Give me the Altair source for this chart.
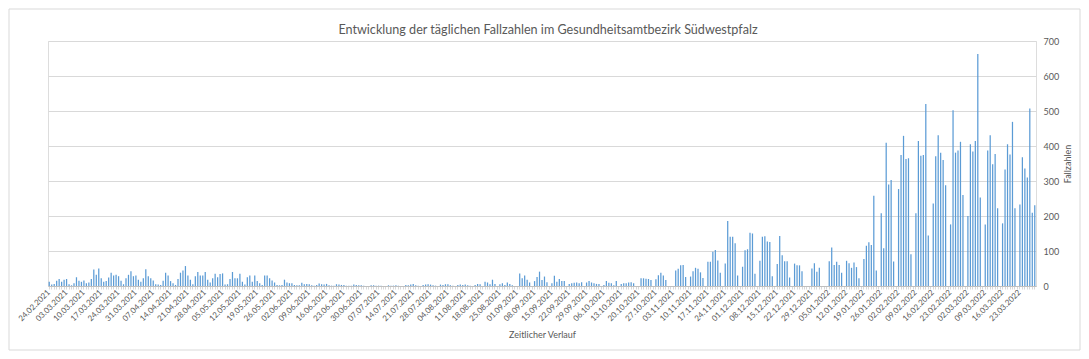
import datetime as dt
import altair as alt
import pandas as pd

# daily case numbers, one list per week (weeks start on the labelled dates)
w_feb_may = [
    [12, 4, 6, 15, 20, 12, 18],
    [20, 5, 2, 8, 25, 15, 12],
    [16, 8, 10, 20, 47, 32, 50],
    [22, 12, 14, 24, 38, 30, 32],
    [28, 15, 5, 22, 32, 42, 28],
    [30, 18, 12, 22, 48, 28, 22],
    [16, 5, 4, 3, 15, 38, 30],
    [14, 8, 3, 20, 38, 44, 57],
    [30, 18, 5, 28, 40, 30, 30],
    [40, 18, 10, 22, 35, 25, 34],
    [36, 4, 5, 20, 40, 22, 22],
    [35, 12, 4, 25, 30, 12, 30],
    [14, 8, 3, 30, 30, 22, 16],
    [10, 3, 2, 3, 18, 10, 8],
]
w_jun_aug = [
    [8, 3, 2, 2, 9, 5, 6],
    [5, 2, 1, 3, 7, 5, 4],
    [6, 2, 1, 1, 5, 4, 3],
    [3, 1, 1, 1, 4, 3, 2],
    [2, 1, 0, 0, 2, 2, 1],
    [1, 1, 0, 0, 2, 1, 1],
    [2, 1, 0, 0, 3, 2, 4],
    [6, 2, 1, 0, 3, 4, 5],
    [4, 2, 1, 0, 4, 3, 5],
    [5, 2, 1, 0, 3, 4, 3],
    [4, 2, 1, 0, 3, 6, 5],
    [0, 12, 10, 5, 18, 6, 0],
    [5, 8, 3, 10, 6, 2, 0],
]
w_sep_nov = [
    [0, 36, 22, 30, 18, 10, 0],
    [14, 26, 41, 17, 27, 11, 0],
    [8, 29, 12, 20, 14, 14, 0],
    [6, 8, 9, 10, 8, 11, 0],
    [10, 14, 10, 8, 6, 6, 0],
    [3, 14, 9, 8, 2, 14, 0],
    [6, 8, 8, 10, 11, 8, 0],
    [0, 22, 22, 21, 20, 17, 0],
    [19, 31, 38, 30, 17, 0, 0],
    [0, 44, 49, 59, 60, 26, 0],
    [27, 42, 52, 49, 39, 23, 0],
    [69, 69, 98, 103, 73, 38, 0],
    [64, 186, 141, 141, 122, 30, 0],
]
w_dec_jan = [
    [55, 102, 105, 152, 150, 35, 0],
    [72, 141, 142, 127, 126, 28, 0],
    [63, 143, 88, 71, 71, 24, 0],
    [64, 59, 59, 42, 0, 0, 0],
    [50, 65, 41, 52, 0, 0, 0],
    [71, 110, 60, 69, 60, 38, 0],
    [72, 65, 52, 67, 54, 22, 0],
    [77, 115, 125, 117, 258, 44, 0],
]
w_feb_mar = [
    [208, 108, 409, 290, 303, 70, 0],
    [277, 374, 429, 363, 365, 91, 0],
    [208, 414, 372, 374, 520, 144, 0],
    [236, 371, 431, 381, 360, 288, 0],
    [176, 502, 381, 387, 412, 260, 0],
    [200, 405, 384, 414, 663, 253, 0],
    [176, 387, 431, 348, 377, 222, 0],
    [179, 333, 405, 376, 469, 222, 0],
    [233, 368, 336, 310, 507, 209, 231],
]

TITLE = "Entwicklung der täglichen Fallzahlen im Gesundheitsamtbezirk Südwestpfalz"

values = [v for block in (w_feb_may, w_jun_aug, w_sep_nov, w_dec_jan, w_feb_mar)
          for week in block for v in week]
start = dt.date(2021, 2, 24)
dates = [(start + dt.timedelta(days=i)).isoformat() for i in range(len(values))]

df = pd.DataFrame({"date": dates, "cases": values})

FONT = "Lato"
GREY = "#595959"

label_expr = (
    "round((toDate(datum.value) - toDate('2021-02-24')) / 86400000) % 7 === 0"
    " ? utcFormat(toDate(datum.value), '%d.%m.%Y') : ''"
)

bars = alt.Chart(df).mark_bar(color="#5B9BD5").encode(
    x=alt.X(
        "date:O",
        sort=dates,
        scale=alt.Scale(paddingInner=0.5, paddingOuter=0.25),
        axis=alt.Axis(
            title="Zeitlicher Verlauf",
            titleFont=FONT, titleFontSize=9, titleFontWeight="normal", titleColor=GREY,
            titlePadding=8,
            labelExpr=label_expr, labelAngle=-45, labelAlign="right", labelBaseline="middle",
            labelFont=FONT, labelFontSize=8, labelColor=GREY, labelOverlap=False,
            labelPadding=2,
            tickSize=3, tickColor="#D9D9D9", domainColor="#BFBFBF", grid=False,
        ),
    ),
    y=alt.Y(
        "cases:Q",
        scale=alt.Scale(domain=[0, 700]),
        axis=alt.Axis(
            orient="right", values=list(range(0, 701, 100)),
            title="Fallzahlen", titleAngle=270, titleBaseline="top",
            titleFont=FONT, titleFontSize=9, titleFontWeight="normal", titleColor=GREY,
            titlePadding=5,
            labelFont=FONT, labelFontSize=9, labelColor=GREY, labelPadding=7,
            ticks=False, domain=False, grid=True, gridColor="#D9D9D9",
        ),
    ),
)

frame = alt.Chart(pd.DataFrame({"f": [0]})).mark_rect(
    fillOpacity=0, stroke="#D9D9D9", strokeWidth=1
).encode(
    x=alt.value(-39), x2=alt.value(1032), y=alt.value(-32), y2=alt.value(309)
)

title = alt.Chart(pd.DataFrame({"t": [TITLE]})).mark_text(
    font=FONT, fontSize=12.6, color=GREY, align="center", baseline="middle"
).encode(
    text="t:N", x=alt.value(500), y=alt.value(-11)
)

chart = alt.layer(frame, bars, title).properties(
    width=988,
    height=245,
    padding={"left": 40, "top": 33, "right": 45, "bottom": 65},
    autosize=alt.AutoSizeParams(type="none"),
).configure_view(stroke=None).configure(background="white")

chart.save("out.html", embed_options={"renderer": "svg", "actions": False})
